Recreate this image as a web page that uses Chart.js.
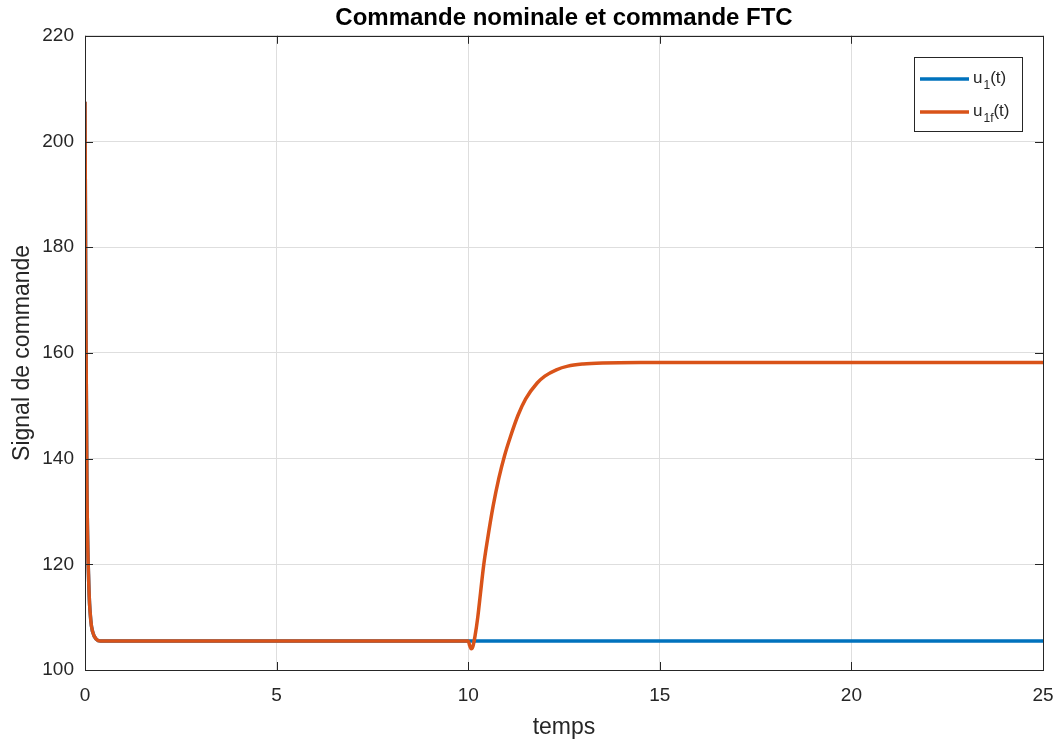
<!DOCTYPE html>
<html>
<head>
<meta charset="utf-8">
<script src="https://cdn.jsdelivr.net/npm/chart.js@4.4.0/dist/chart.umd.min.js"></script>
<style>
    html, body { margin: 0; padding: 0; background: #fff; }
    #wrap { width: 1062px; height: 745px; }
</style>
</head>
<body>
<div id="wrap"><canvas id="chart"></canvas></div>
<script>
// --- data ---
const timeU1 = [0, 0.02, 0.05, 0.1, 0.15, 0.2, 0.3, 0.4, 10, 25];
const valuesU1 = [207.5, 170, 135, 116, 109.5, 107.2, 105.8, 105.5, 105.5, 105.5];

const timeU1f = [0, 0.02, 0.05, 0.1, 0.15, 0.2, 0.3, 0.4, 10, 10.04, 10.08, 10.12, 10.18, 10.25, 10.32, 10.4, 10.5, 10.65, 10.8, 10.95, 11.1, 11.3, 11.5, 11.8, 12, 12.3, 12.6, 13, 13.5, 14.5, 25];
const valuesU1f = [207.5, 170, 135, 116, 109.5, 107.2, 105.8, 105.5, 105.5, 104.6, 104.0, 104.4, 106.5, 110, 114.5, 119.6, 124.5, 131, 136.3, 140.6, 144.1, 148.2, 151.3, 154.3, 155.6, 156.8, 157.5, 157.9, 158.1, 158.2, 158.2];

const xTicks = [0, 5, 10, 15, 20, 25];
const yTicks = [100, 120, 140, 160, 180, 200, 220];

const legendLabels = [
    { base: 'u', sub: '1', tail: '(t)' },
    { base: 'u', sub: '1f', tail: '(t)' }
];

const colors = {
    blue: '#0072BD',
    orange: '#D95319',
    axis: '#262626',
    grid: '#dedede'
};

const FONT = 'Liberation Sans, Arial, Helvetica, sans-serif';

function toPoints(xs, ys) {
    return xs.map((x, i) => ({ x: x, y: ys[i] }));
}

// box frame, inward ticks and a matlab-like legend with subscripts
const framePlugin = {
    id: 'frame',
    afterDraw(chart) {
        const { ctx, chartArea: a } = chart;
        ctx.save();
        ctx.strokeStyle = colors.axis;
        ctx.lineWidth = 1;
        ctx.strokeRect(Math.round(a.left) + 0.5, Math.round(a.top) + 0.5,
            Math.round(a.right - a.left), Math.round(a.bottom - a.top));

        const xs = chart.scales.x, ys = chart.scales.y;
        ctx.beginPath();
        xTicks.forEach(v => {
            const px = Math.round(xs.getPixelForValue(v)) + 0.5;
            ctx.moveTo(px, a.bottom); ctx.lineTo(px, a.bottom - 8);
            ctx.moveTo(px, a.top); ctx.lineTo(px, a.top + 8);
        });
        yTicks.forEach(v => {
            const py = Math.round(ys.getPixelForValue(v)) + 0.5;
            ctx.moveTo(a.left, py); ctx.lineTo(a.left + 8, py);
            ctx.moveTo(a.right, py); ctx.lineTo(a.right - 8, py);
        });
        ctx.stroke();

        // legend
        const bx = 914, by = 57, bw = 108, bh = 74;
        ctx.fillStyle = '#fff';
        ctx.fillRect(bx, by, bw, bh);
        ctx.strokeStyle = colors.axis;
        ctx.strokeRect(bx + 0.5, by + 0.5, bw, bh);
        const rowY = [79, 112];
        chart.data.datasets.forEach((ds, i) => {
            const y = rowY[i];
            ctx.strokeStyle = ds.borderColor;
            ctx.lineWidth = 3.5;
            ctx.beginPath();
            ctx.moveTo(920, y); ctx.lineTo(969, y);
            ctx.stroke();
            const lab = legendLabels[i];
            ctx.fillStyle = colors.axis;
            ctx.textBaseline = 'alphabetic';
            ctx.font = '17px ' + FONT;
            let x = 973;
            ctx.fillText(lab.base, x, y + 4);
            x += ctx.measureText(lab.base).width + 1;
            ctx.font = '12px ' + FONT;
            ctx.fillText(lab.sub, x, y + 10);
            x += ctx.measureText(lab.sub).width;
            ctx.font = '17px ' + FONT;
            ctx.fillText(lab.tail, x, y + 4);
        });
        ctx.restore();
    }
};

new Chart(document.getElementById('chart'), {
    type: 'line',
    data: {
        datasets: [
            {
                label: 'u1(t)',
                data: toPoints(timeU1, valuesU1),
                borderColor: colors.blue,
                borderWidth: 3.5,
                pointRadius: 0,
                cubicInterpolationMode: 'monotone',
                order: 2
            },
            {
                label: 'u1f(t)',
                data: toPoints(timeU1f, valuesU1f),
                borderColor: colors.orange,
                borderWidth: 3.5,
                pointRadius: 0,
                cubicInterpolationMode: 'monotone',
                order: 1
            }
        ]
    },
    options: {
        responsive: true,
        maintainAspectRatio: false,
        animation: false,
        layout: { padding: { left: 0, right: 19, top: 0, bottom: 0 } },
        plugins: {
            legend: { display: false },
            tooltip: { enabled: false },
            title: {
                display: true,
                fullSize: false,
                text: 'Commande nominale et commande FTC',
                color: '#000',
                font: { family: FONT, size: 24, weight: 'bold' },
                padding: { top: 4, bottom: 3 }
            }
        },
        scales: {
            x: {
                type: 'linear',
                min: 0,
                max: 25,
                afterBuildTicks: s => { s.ticks = xTicks.map(v => ({ value: v })); },
                afterFit: s => {
                    s.height = 75;
                    s.paddingLeft = 0;
                    s.paddingRight = 0;
                },
                grid: { color: colors.grid, drawTicks: false },
                border: { display: false },
                ticks: {
                    color: colors.axis,
                    font: { family: FONT, size: 19 },
                    padding: 14
                },
                title: {
                    display: true,
                    text: 'temps',
                    color: colors.axis,
                    font: { family: FONT, size: 23 },
                    padding: { top: 0, bottom: 4 }
                }
            },
            y: {
                min: 100,
                max: 220,
                afterBuildTicks: s => { s.ticks = yTicks.map(v => ({ value: v })); },
                afterFit: s => {
                    s.width = 85;
                    s.paddingTop = 0;
                    s.paddingBottom = 0;
                },
                grid: { color: colors.grid, drawTicks: false },
                border: { display: false },
                ticks: {
                    color: colors.axis,
                    font: { family: FONT, size: 19 },
                    padding: 11
                },
                title: {
                    display: true,
                    text: 'Signal de commande',
                    color: colors.axis,
                    font: { family: FONT, size: 23 },
                    padding: { top: 9, bottom: 0 }
                }
            }
        }
    },
    plugins: [framePlugin]
});
</script>
</body>
</html>
